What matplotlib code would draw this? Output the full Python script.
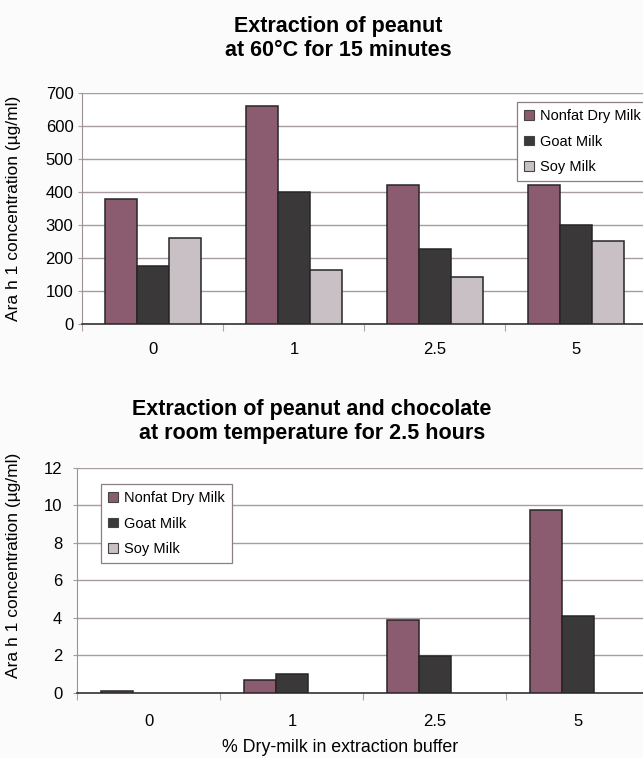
import matplotlib
matplotlib.use("Agg")
import matplotlib.pyplot as plt
from matplotlib.ticker import FixedLocator, NullFormatter
import numpy as np

plt.rcParams['font.family'] = ['Liberation Sans', 'DejaVu Sans']

categories = ["0", "1", "2.5", "5"]
series_names = ["Nonfat Dry Milk", "Goat Milk", "Soy Milk"]

# top panel: 60°C, 15 min
hot_nonfat = [380, 660, 420, 420]
hot_goat = [175, 400, 228, 300]
hot_soy = [260, 165, 143, 252]

# bottom panel: room temperature, 2.5 h
rt_nonfat = [0.08, 0.68, 3.88, 9.75]
rt_goat = [0.0, 1.0, 1.95, 4.1]
rt_soy = [0.0, 0.0, 0.0, 0.0]

colors = ["#8b5b70", "#3a3839", "#c9c0c5"]
edge = "#262626"
grid_col = "#a89ca2"

fig = plt.figure(figsize=(6.43, 7.58), dpi=100, facecolor="#fbfbfb")


def draw_panel(ax, data, ymax, ystep, bar_w, xpad, ypad, leg_anchor):
    x = np.arange(len(categories))
    for i, vals in enumerate(data):
        vals = np.asarray(vals, dtype=float)
        lw = np.where(vals > 0, 1.1, 0.0)
        ax.bar(x + (i - 1) * bar_w, vals, width=bar_w, color=colors[i],
               edgecolor=edge, linewidth=lw, label=series_names[i], zorder=3)
    ax.set_xlim(-0.5, len(categories) - 0.5)
    ax.set_ylim(0, ymax)
    ax.set_yticks(np.arange(0, ymax + ystep / 2, ystep))
    ax.yaxis.grid(True, color=grid_col, linewidth=1.0, zorder=0)
    ax.set_axisbelow(True)
    # ticks at the category borders, labels in the middle
    ax.xaxis.set_major_locator(FixedLocator(np.arange(-0.5, len(categories), 1.0)))
    ax.xaxis.set_major_formatter(NullFormatter())
    ax.xaxis.set_minor_locator(FixedLocator(x))
    ax.set_xticklabels(categories, minor=True)
    ax.tick_params(axis='x', which='major', length=5, color="#b0a0a8", direction='out')
    ax.tick_params(axis='x', which='minor', length=0, pad=xpad, labelsize=12)
    ax.tick_params(axis='y', length=3, color=grid_col, pad=ypad, labelsize=12)
    for side in ["top", "right"]:
        ax.spines[side].set_visible(False)
    ax.spines["left"].set_color("#9a9096")
    ax.spines["bottom"].set_color("#333333")
    ax.spines["bottom"].set_linewidth(1.2)
    ax.set_facecolor("white")
    leg = ax.legend(loc="upper left", bbox_to_anchor=leg_anchor,
                    bbox_transform=fig.transFigure, fontsize=10.5,
                    handlelength=0.65, handleheight=0.65, handletextpad=0.4,
                    labelspacing=0.78, borderpad=0.5, borderaxespad=0,
                    fancybox=False, framealpha=1, edgecolor="#8a7f86")
    leg.get_frame().set_linewidth(0.9)
    for h in leg.legend_handles:
        h.set_edgecolor("#444444")
        h.set_linewidth(0.8)


ax1 = fig.add_axes([0.1283, 0.5726, 0.8771, 0.3047])
draw_panel(ax1, [hot_nonfat, hot_goat, hot_soy], 700, 100, 0.227, 12.8, 3.5,
           (0.804, 0.8655))
ax1.set_ylabel("Ara h 1 concentration (µg/ml)", fontsize=12.5)
ax1.yaxis.set_label_coords(0.0327, 0.7249, transform=fig.transFigure)

ax2 = fig.add_axes([0.1205, 0.0858, 0.8896, 0.2968])
draw_panel(ax2, [rt_nonfat, rt_goat, rt_soy], 12, 2, 0.224, 15.0, 8,
           (0.157, 0.3615))
ax2.set_ylabel("Ara h 1 concentration (µg/ml)", fontsize=12.5)
ax2.yaxis.set_label_coords(0.0327, 0.2546, transform=fig.transFigure)

fig.text(0.5257, 0.9492, "Extraction of peanut\nat 60°C for 15 minutes",
         ha="center", va="center", fontsize=15.5, fontweight="bold", linespacing=1.2)
fig.text(0.4852, 0.4439, "Extraction of peanut and chocolate\nat room temperature for 2.5 hours",
         ha="center", va="center", fontsize=15.5, fontweight="bold", linespacing=1.2)
fig.text(0.5288, 0.0132, "% Dry-milk in extraction buffer", ha="center", va="center",
         fontsize=12.8)

fig.savefig("out.png", dpi=100, facecolor=fig.get_facecolor())
